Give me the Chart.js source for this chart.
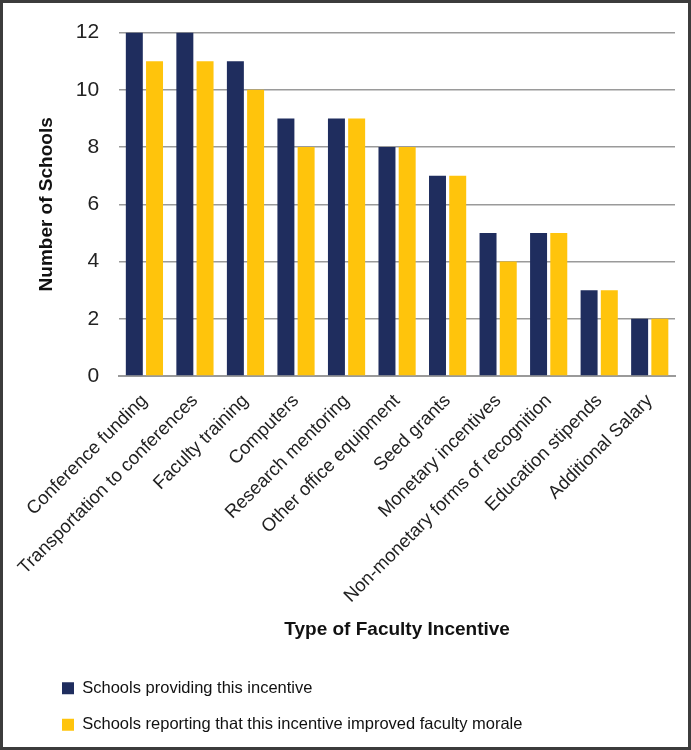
<!DOCTYPE html>
<html>
<head>
<meta charset="utf-8">
<script src="https://cdn.jsdelivr.net/npm/chart.js@4/dist/chart.umd.min.js"></script>
<style>
  html, body { margin: 0; padding: 0; background: #fff; }
  #frame {
    width: 691px; height: 750px; box-sizing: border-box;
    border: 3px solid #3c3c3c; position: relative;
  }
  #frame canvas { display: block; }
</style>
</head>
<body>
<div id="frame"><canvas id="myChart" width="685" height="744"></canvas></div>
<script>
'use strict';

var incentives = ['Conference funding', 'Transportation to conferences', 'Faculty training',
  'Computers', 'Research mentoring', 'Other office equipment', 'Seed grants',
  'Monetary incentives', 'Non-monetary forms of recognition', 'Education stipends',
  'Additional Salary'];
var providing = [12, 12, 11, 9, 9, 8, 7, 5, 5, 3, 2];
var improvedMorale = [11, 11, 10, 8, 9, 8, 7, 4, 5, 3, 2];
var yTicks = [0, 2, 4, 6, 8, 10, 12];

var ctx = document.getElementById('myChart');

// legend sits further right than the chart's left edge
var legendIndent = {
  id: 'legendIndent',
  afterLayout: function (chart) {
    chart.legend.left += 30;
  }
};

var chart = new Chart(ctx, {
  type: 'bar',
  data: {
    labels: incentives,
    datasets: [
      {
        label: 'Schools providing this incentive',
        backgroundColor: '#1f2d5e',
        data: providing
      },
      {
        label: 'Schools reporting that this incentive improved faculty morale',
        backgroundColor: '#ffc40c',
        data: improvedMorale
      }
    ]
  },
  options: {
    responsive: false,
    animation: false,
    devicePixelRatio: 1,
    layout: { padding: { left: 9, right: 13, top: 12, bottom: 4 } },
    categoryPercentage: 0.8,
    barPercentage: 0.84,
    plugins: {
      tooltip: { enabled: false },
      legend: {
        position: 'bottom',
        align: 'start',
        labels: {
          boxWidth: 12,
          boxHeight: 12,
          padding: 20,
          color: '#111',
          font: { family: 'Liberation Sans', size: 16.5 }
        }
      }
    },
    scales: {
      x: {
        // rotated labels ask for more room on the left than they need
        afterFit: function (scale) {
          scale.paddingLeft -= 8;
        },
        grid: { display: false },
        border: { display: true, color: '#9a9a9a', width: 2 },
        ticks: {
          color: '#222',
          maxRotation: 45,
          minRotation: 45,
          padding: 6,
          font: { family: 'Liberation Sans', size: 18.5 }
        },
        title: {
          display: true,
          text: 'Type of Faculty Incentive',
          color: '#111',
          padding: { top: 5, bottom: 19 },
          font: { family: 'Liberation Sans', size: 19, weight: 'bold' }
        }
      },
      y: {
        min: 0,
        max: 12,
        afterBuildTicks: function (axis) {
          axis.ticks = yTicks.map(function (v) { return { value: v }; });
        },
        afterFit: function (scale) {
          scale.paddingTop -= 3;
          scale.width -= 8;
        },
        grid: { color: '#9a9a9a', lineWidth: 1.5, drawTicks: false },
        border: { display: false },
        ticks: {
          color: '#222',
          padding: 20,
          font: { family: 'Liberation Sans', size: 21 }
        },
        title: {
          display: true,
          text: 'Number of Schools',
          color: '#111',
          padding: { top: 23, bottom: 6 },
          font: { family: 'Liberation Sans', size: 19, weight: 'bold' }
        }
      }
    }
  },
  plugins: [legendIndent]
});
</script>
</body>
</html>
